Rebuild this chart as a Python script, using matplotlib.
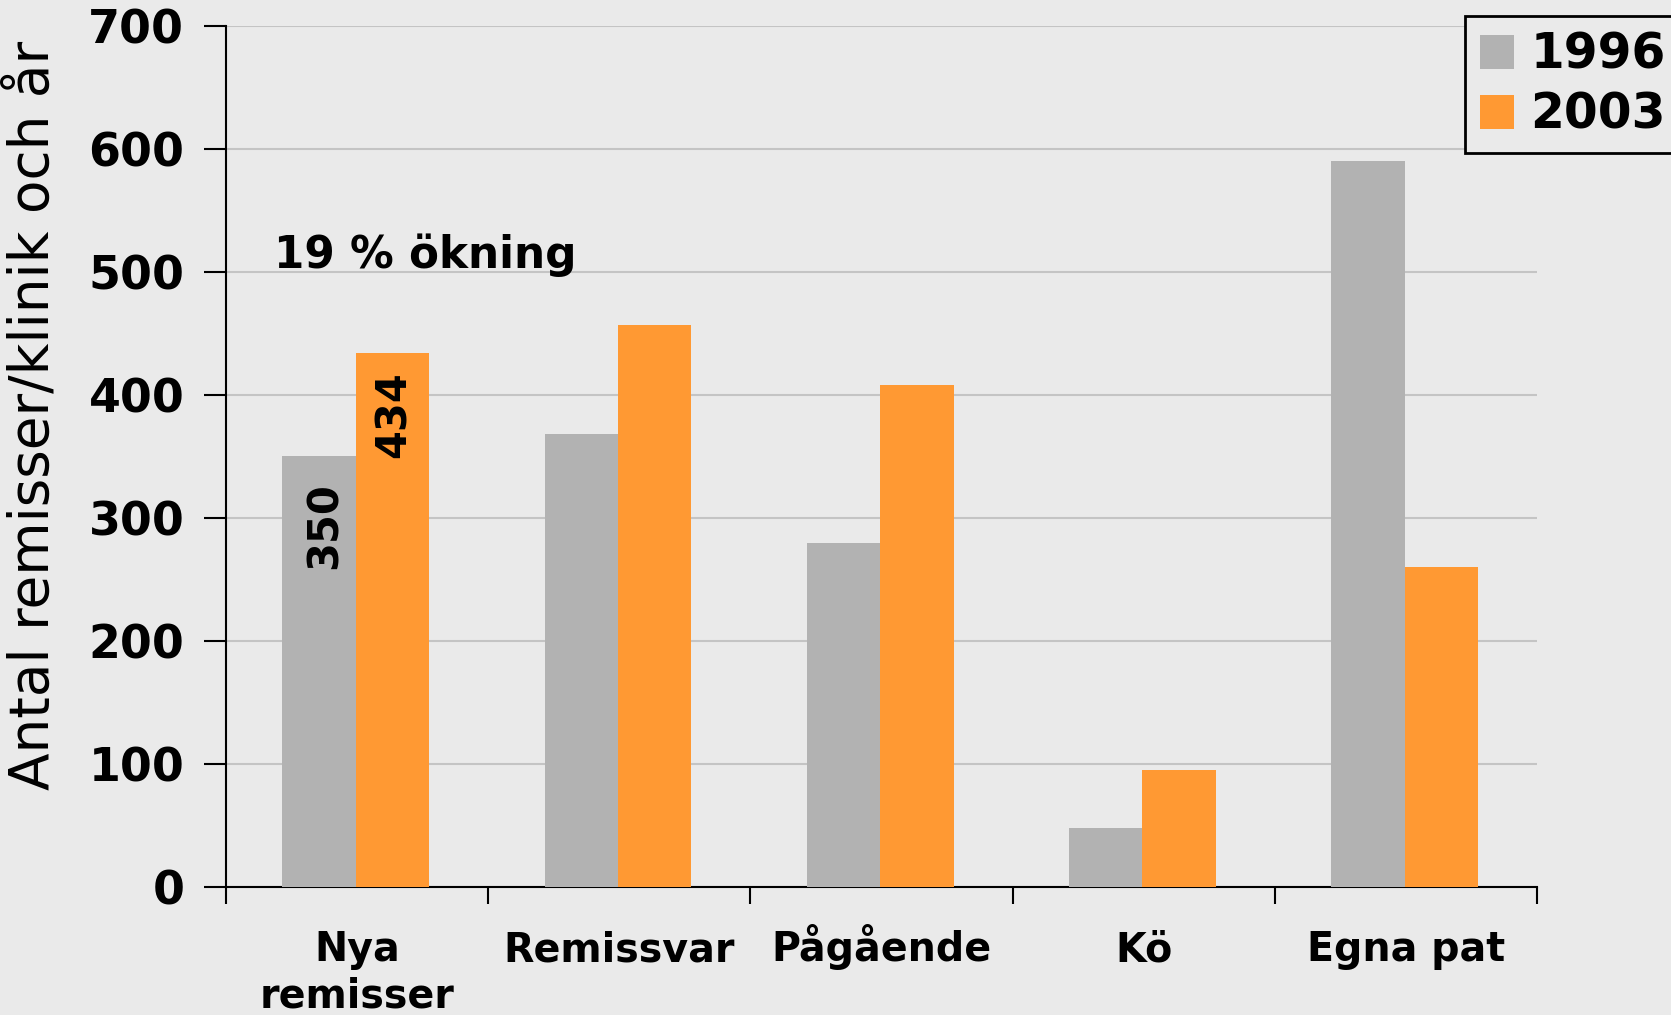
import matplotlib
matplotlib.use("Agg")
import matplotlib.pyplot as plt
import matplotlib.transforms as mtrans
from matplotlib.patches import Patch
import numpy as np

categories = ["Nya\nremisser", "Remissvar", "Pågående", "Kö", "Egna pat"]
years = ["1996", "2003"]
values_1996 = [350, 368, 280, 48, 590]
values_2003 = [434, 457, 408, 95, 260]
yticks = [0, 100, 200, 300, 400, 500, 600, 700]

bg = "#EAEAEA"
c96 = "#B2B2B2"
c03 = "#FF9933"

fig = plt.figure(figsize=(16.71, 10.15), dpi=100, facecolor=bg)
ax = fig.add_axes([226/1671, 128/1015, (1537-226)/1671, (887-26)/1015])
ax.set_facecolor(bg)

x = np.arange(len(categories)) + 0.5
w = 0.28
ax.bar(x - w/2 - 0.005, values_1996, w, color=c96, zorder=3)
ax.bar(x + w/2 - 0.005, values_2003, w, color=c03, zorder=3)

ax.set_xlim(0, 5)
ax.set_ylim(0, 700)
ax.set_yticks(yticks)
ax.set_yticklabels([str(v) for v in yticks], fontsize=33, fontweight="bold")
ax.yaxis.grid(True, color="#C4C4C4", linewidth=1.5, zorder=0)
ax.set_axisbelow(True)

ax.set_xticks(np.arange(0, 6))
ax.set_xticklabels([])
ax.tick_params(axis="x", which="major", length=12, width=1.5, direction="out")
ax.tick_params(axis="y", length=16, width=1.5, direction="out", pad=14)

# category labels, baseline aligned
trans = mtrans.blended_transform_factory(ax.transData, fig.transFigure)
line_y = [(1015 - 961) / 1015, (1015 - 1007) / 1015]
for i, label in enumerate(categories):
    for j, line in enumerate(label.split("\n")):
        ax.text(x[i], line_y[j], line, transform=trans, ha="center", va="baseline",
                fontsize=28.5, fontweight="bold", clip_on=False)

for s in ["top", "right"]:
    ax.spines[s].set_visible(False)
for s in ["left", "bottom"]:
    ax.spines[s].set_color("black")
    ax.spines[s].set_linewidth(1.5)

ax.text(-0.1465, 0.5475, "Antal remisser/klinik och år", transform=ax.transAxes,
        rotation=90, fontsize=39.5, ha="center", va="center")

# annotations
ax.text(0.183, 514, "19 % ökning", fontsize=31.5, fontweight="bold", va="center", ha="left")
ax.text(0.378, 294, str(values_1996[0]), rotation=90, fontsize=30,
        fontweight="bold", ha="center", va="center")
ax.text(0.641, 384, str(values_2003[0]), rotation=90, fontsize=30,
        fontweight="bold", ha="center", va="center")

handles = [Patch(facecolor=c96, edgecolor="none"), Patch(facecolor=c03, edgecolor="none")]
leg = fig.legend(handles, years, loc="upper left",
                 bbox_to_anchor=(1465/1671, 1 - 16/1015), borderaxespad=0,
                 prop={"size": 35, "weight": "bold"}, handlelength=0.7,
                 handleheight=0.7, handletextpad=0.35, labelspacing=0.25,
                 borderpad=0.3, fancybox=False, framealpha=1)
leg.get_frame().set_facecolor(bg)
leg.get_frame().set_edgecolor("black")
leg.get_frame().set_linewidth(2)

fig.savefig("out.png", dpi=100, facecolor=bg)
